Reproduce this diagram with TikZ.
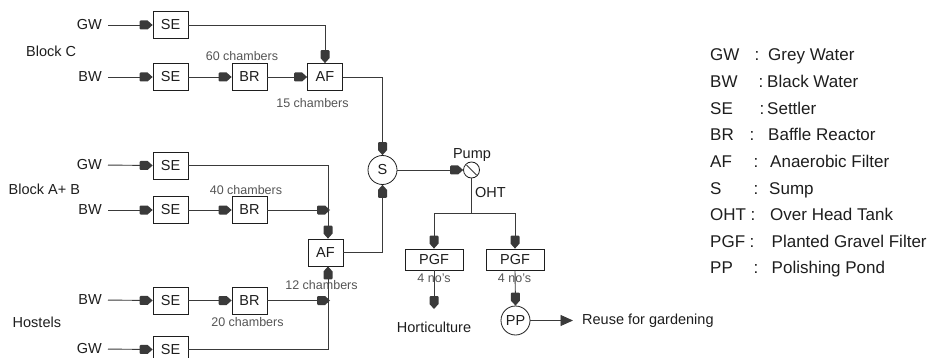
\documentclass[tikz,border=0pt]{standalone}
\usepackage{fontspec}
\setmainfont{Liberation Sans}
\usetikzlibrary{arrows.meta,calc}
\pgfdeclarearrow{
  name = House,
  setup code = {
    \pgfarrowssettipend{0pt}
    \pgfarrowssetbackend{-13pt}
    \pgfarrowssetvisualbackend{-13pt}
    \pgfarrowssetlineend{-10pt}
    \pgfarrowsupperhullpoint{-13pt}{4.5pt}
    \pgfarrowsupperhullpoint{-5pt}{4.5pt}
    \pgfarrowsupperhullpoint{0pt}{0pt}
  },
  drawing code = {
    \pgfpathmoveto{\pgfqpoint{0pt}{0pt}}
    \pgfpathlineto{\pgfqpoint{-5pt}{4.5pt}}
    \pgfpathlineto{\pgfqpoint{-12pt}{4.5pt}}
    \pgfpathlineto{\pgfqpoint{-13pt}{3.5pt}}
    \pgfpathlineto{\pgfqpoint{-13pt}{-3.5pt}}
    \pgfpathlineto{\pgfqpoint{-12pt}{-4.5pt}}
    \pgfpathlineto{\pgfqpoint{-5pt}{-4.5pt}}
    \pgfpathclose
    \pgfusepathqfill
  }
}
\definecolor{lncol}{HTML}{3A3A3A}
\definecolor{txtcol}{HTML}{1E1E1E}
\definecolor{smcol}{HTML}{555555}
\tikzset{
  ln/.style={draw=lncol, line width=0.9pt},
  arr/.style={ln, -House},
  tarr/.style={ln, -{Triangle[length=12.5pt, width=11pt]}},
  lbl/.style={inner sep=0pt, text=txtcol, font=\fontsize{14.5}{16}\selectfont},
  sml/.style={inner sep=0pt, text=smcol, font=\fontsize{12.5}{14}\selectfont},
  leg/.style={inner sep=0pt, text=txtcol, font=\fontsize{17}{19}\selectfont, anchor=base west},
  box/.style={draw=txtcol, line width=0.8pt, fill=white, minimum width=35pt, minimum height=27pt, inner sep=0pt, text=txtcol, font=\fontsize{14.5}{16}\selectfont},
  pgfbox/.style={box, minimum width=58pt, minimum height=21pt},
  rnd/.style={draw=txtcol, line width=0.8pt, fill=white, circle, inner sep=0pt, text=txtcol, font=\fontsize{14.5}{16}\selectfont}
}
\begin{document}
\begin{tikzpicture}[x=1pt,y=-1pt]
\useasboundingbox (0,0) rectangle (928,358);
\clip (0,0) rectangle (928,358);
\fill[white] (0,0) rectangle (928,358);

% block labels
\node[lbl, anchor=west] (blc) at (26,51) {Block C};
\node[lbl, anchor=west] (blab) at (8.5,189) {Block A+ B};
\node[lbl, anchor=west] (blh) at (12.5,322) {Hostels};

% source labels
\node[lbl, anchor=east] (gw1) at (102,25) {GW};
\node[lbl, anchor=east] (bw2) at (102,77) {BW};
\node[lbl, anchor=east] (gw3) at (102,165) {GW};
\node[lbl, anchor=east] (bw4) at (102,210) {BW};
\node[lbl, anchor=east] (bw5) at (102,300) {BW};
\node[lbl, anchor=east] (gw6) at (102,349) {GW};

% small labels
\node[sml] (c60) at (242,56) {60 chambers};
\node[sml] (c15) at (312.5,103) {15 chambers};
\node[sml] (c40) at (246,190) {40 chambers};
\node[sml] (c12) at (321.5,285) {12 chambers};
\node[sml] (c20) at (247.5,322.5) {20 chambers};
\node[sml] (n1) at (434,278) {4 no's};
\node[sml] (n2) at (514.5,278) {4 no's};

% boxes
\node[box] (se1) at (170.5,25) {SE};
\node[box] (se2) at (170.5,77) {SE};
\node[box] (br2) at (249.5,77) {BR};
\node[box] (af1) at (325,77) {AF};
\node[box] (se3) at (170.5,165.5) {SE};
\node[box] (se4) at (170.5,210) {SE};
\node[box] (br4) at (249.5,210) {BR};
\node[box] (af2) at (325.5,252.5) {AF};
\node[box] (se5) at (170.5,300.5) {SE};
\node[box] (br5) at (249.5,300.5) {BR};
\node[box] (se6) at (170.5,349.5) {SE};

\node[rnd, minimum size=29pt] (s) at (382.5,170) {S};
\node[rnd, minimum size=16pt] (pump) at (471.5,170) {};
\draw[lncol, line width=0.8pt] ($(pump.center)+(-5,-5)$) -- ($(pump.center)+(5,5)$);
\node[lbl, anchor=base] (pumpl) at (472,158.3) {Pump};
\node[lbl, anchor=west] (ohtl) at (475,193) {OHT};

\node[pgfbox] (pgf1) at (434,259.5) {PGF};
\node[pgfbox] (pgf2) at (515,259.5) {PGF};
\node[rnd, minimum size=29pt] (pp) at (515.5,320.5) {PP};
\node[lbl, anchor=base] (hort) at (434,332.5) {Horticulture};
\node[lbl, anchor=west, inner xsep=9pt] (reuse) at (573,320.5) {Reuse for gardening};

% helper coordinates
\coordinate (jv) at (328,0);
\coordinate (jt) at (330,0);
\coordinate (oht) at (471.5,213);
\coordinate (hend) at (434,309);

% connectors
\draw[arr, shorten <=6pt] (gw1.east) -- (se1.west);
\draw[arr, shorten <=6pt] (bw2.east) -- (se2.west);
\draw[arr, shorten <=6pt] (gw3.east) -- (se3.west);
\draw[arr, shorten <=6pt] (bw4.east) -- (se4.west);
\draw[arr, shorten <=6pt] (bw5.east) -- (se5.west);
\draw[arr, shorten <=6pt] (gw6.east) -- (se6.west);

\draw[arr] (se1.east) -| (af1.north);
\draw[arr] (se2.east) -- (br2.west);
\draw[arr] (br2.east) -- (af1.west);
\draw[arr] (af1.east) -| (s.north);

\draw[arr] (se3.east) -| (jv |- af2.north);
\draw[arr] (se4.east) -- (br4.west);
\draw[arr] (br4.east) -- (br4.east -| jt);
\draw[arr] (se5.east) -- (br5.west);
\draw[arr] (br5.east) -- (br5.east -| jt);
\draw[arr] (se6.east) -| (jv |- af2.south);
\draw[arr] (af2.east) -| (s.south);

\draw[arr] (s.east) -- (pump.west);
\draw[ln] (pump.south) -- (oht);
\draw[arr] (oht) -| (pgf1.north);
\draw[arr] (oht) -| (pgf2.north);
\draw[arr] (pgf1.south) -- (hend);
\draw[arr] (pgf2.south) -- (pp.north);
\draw[tarr] (pp.east) -- (reuse.west);

% legend
\node[leg] (k1) at (710,61) {GW};  \node[leg] (c1) at (754.5,61) {:}; \node[leg] (d1) at (768,61) {Grey Water};
\node[leg] (k2) at (710,87.6) {BW}; \node[leg] (c2) at (758.5,87.6) {:}; \node[leg] (d2) at (767,87.6) {Black Water};
\node[leg] (k3) at (710,114.2) {SE}; \node[leg] (c3) at (759.5,114.2) {:}; \node[leg] (d3) at (767,114.2) {Settler};
\node[leg] (k4) at (710,140.8) {BR}; \node[leg] (c4) at (749.5,140.8) {:}; \node[leg] (d4) at (768,140.8) {Baffle Reactor};
\node[leg] (k5) at (710,167.4) {AF}; \node[leg] (c5) at (753.5,167.4) {:}; \node[leg] (d5) at (770,167.4) {Anaerobic Filter};
\node[leg] (k6) at (710,194) {S}; \node[leg] (c6) at (753.5,194) {:}; \node[leg] (d6) at (769,194) {Sump};
\node[leg] (k7) at (710,220.6) {OHT}; \node[leg] (c7) at (750.5,220.6) {:}; \node[leg] (d7) at (770,220.6) {Over Head Tank};
\node[leg] (k8) at (710,247.2) {PGF}; \node[leg] (c8) at (749.5,247.2) {:}; \node[leg] (d8) at (771.5,247.2) {Planted Gravel Filter};
\node[leg] (k9) at (710,273.8) {PP}; \node[leg] (c9) at (753.5,273.8) {:}; \node[leg] (d9) at (771.5,273.8) {Polishing Pond};
\end{tikzpicture}
\end{document}
